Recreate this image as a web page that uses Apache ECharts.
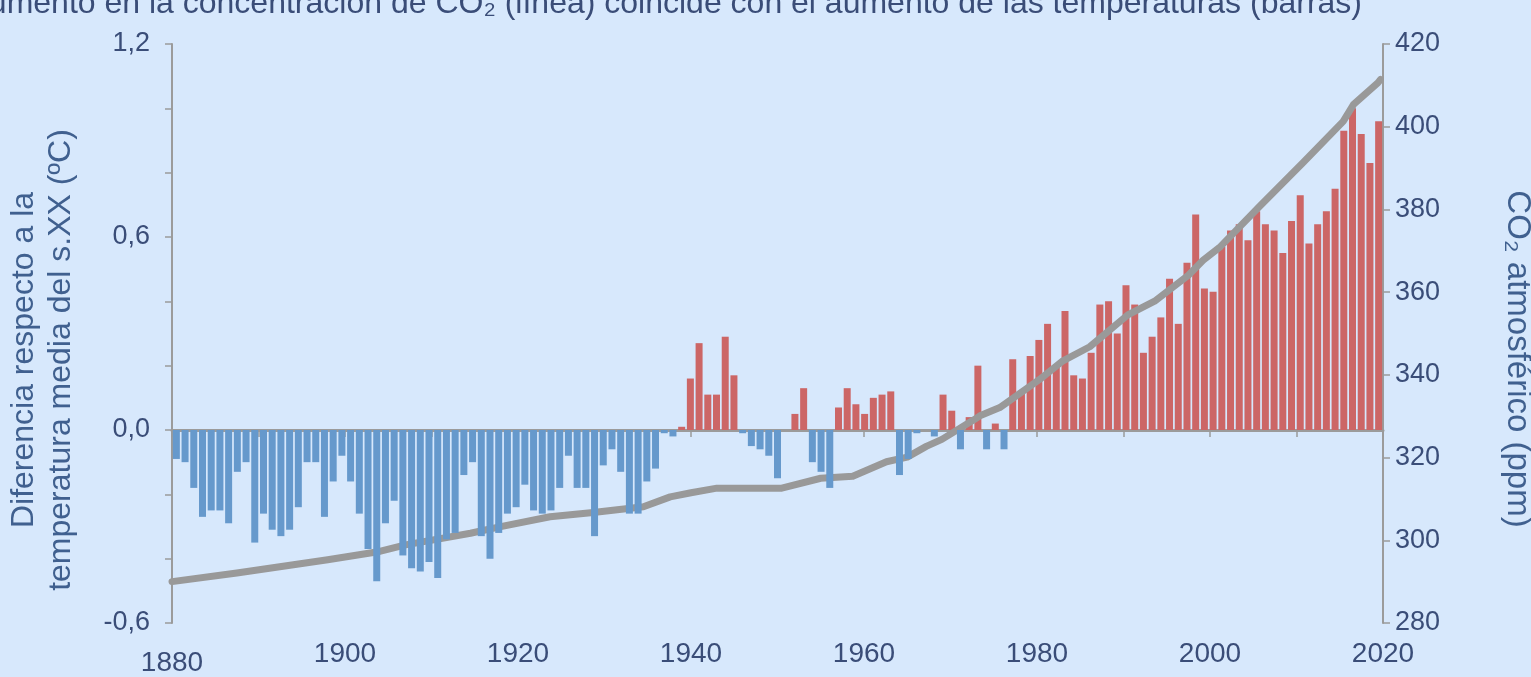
<!DOCTYPE html>
<html>
<head>
<meta charset="utf-8">
<script src="https://cdn.jsdelivr.net/npm/echarts@6/dist/echarts.min.js"></script>
<style>
  html, body { margin: 0; padding: 0; background: #d7e8fc; }
  #main { width: 1531px; height: 677px; }
</style>
</head>
<body>
<div id="main"></div>
<script>
// años de las barras (1881-2019)
var barYears = [];
for (var yr = 1881; yr <= 2019; yr++) barYears.push(String(yr));

// anomalía de temperatura (ºC) respecto a la media del s.XX
var anomaly = [
  -0.09, -0.10, -0.18, -0.27, -0.25, -0.25, -0.29, -0.13, -0.10, -0.35,
  -0.26, -0.31, -0.33, -0.31, -0.24, -0.10, -0.10, -0.27, -0.16, -0.08,
  -0.16, -0.26, -0.37, -0.47, -0.29, -0.22, -0.39, -0.43, -0.44, -0.41,
  -0.46, -0.34, -0.32, -0.14, -0.10, -0.33, -0.40, -0.32, -0.26, -0.24,
  -0.17, -0.25, -0.26, -0.25, -0.18, -0.08, -0.18, -0.18, -0.33, -0.11,
  -0.06, -0.13, -0.26, -0.26, -0.16, -0.12, -0.01, -0.02, 0.01, 0.16,
  0.27, 0.11, 0.11, 0.29, 0.17, -0.01, -0.05, -0.06, -0.08, -0.15,
  0, 0.05, 0.13, -0.10, -0.13, -0.18, 0.07, 0.13, 0.08, 0.05,
  0.10, 0.11, 0.12, -0.14, -0.09, -0.01, 0, -0.02, 0.11, 0.06,
  -0.06, 0.04, 0.20, -0.06, 0.02, -0.06, 0.22, 0.12, 0.23, 0.28,
  0.33, 0.20, 0.37, 0.17, 0.16, 0.24, 0.39, 0.40, 0.30, 0.45,
  0.39, 0.24, 0.29, 0.35, 0.47, 0.33, 0.52, 0.67, 0.44, 0.43,
  0.57, 0.62, 0.64, 0.59, 0.68, 0.64, 0.62, 0.55, 0.65, 0.73,
  0.58, 0.64, 0.68, 0.75, 0.93, 1.00, 0.92, 0.83, 0.96
];

var co2Years = [1880, 1887.5, 1898, 1904, 1907, 1914.5, 1918, 1923.7, 1928.7, 1934.5,
  1937.6, 1940, 1943, 1950.5, 1955, 1958.7, 1962.6, 1965, 1967.2, 1969,
  1972.6, 1973.4, 1975.7, 1980.3, 1983, 1986.1, 1990.5, 1993.6, 1997.5, 1999.2,
  2001.2, 2005.8, 2010.8, 2015.4, 2016.6, 2019.4, 2019.7];
var co2Ppm = [290.0, 292.1, 295.3, 297.3, 298.9, 301.7, 303.3, 305.7, 306.7, 308.1,
  310.5, 311.5, 312.6, 312.6, 315.0, 315.5, 319.0, 320.1, 322.7, 324.4,
  329.0, 330.1, 332.1, 338.9, 343.4, 346.8, 354.5, 357.8, 364.1, 367.7,
  371.0, 380.9, 391.4, 401.3, 405.4, 410.6, 411.4];

// etiquetas de los ejes
var tempLabels = [-0.6, 0, 0.6, 1.2];
var yearLabels = [1880, 1900, 1920, 1940, 1960, 1980, 2000, 2020];

var textColor = '#3a4d78';
var nameColor = '#40608f';
var axisGrey = '#9b9b9b';
var font = 'Liberation Sans, Arial, sans-serif';

var posData = anomaly.map(function (v) { return v > 0 ? v : '-'; });
var negData = anomaly.map(function (v) { return v < 0 ? v : '-'; });
var co2Data = co2Years.map(function (y, i) { return [y, co2Ppm[i]]; });

var myChart = echarts.init(document.getElementById('main'));

var option = {
  animation: false,
  backgroundColor: '#d7e8fc',
  grid: { left: 172, right: 148, top: 44, bottom: 50 },
  xAxis: [{
    type: 'value', min: 1880, max: 2020, interval: 10,
    axisLine: { lineStyle: { color: axisGrey, width: 3 } },
    axisTick: { length: 7, lineStyle: { color: axisGrey, width: 1.5 } },
    splitLine: { show: false },
    axisLabel: {
      margin: 17, fontSize: 28, fontFamily: font, color: textColor,
      formatter: function (v) {
        if (yearLabels.indexOf(v) < 0) return '';
        return v === 1880 ? '{first|1880}' : String(v);
      },
      rich: { first: { fontSize: 28, fontFamily: font, color: textColor, padding: [9, 0, 0, 0] } }
    }
  }, {
    type: 'category', data: barYears, show: false, boundaryGap: true
  }],
  yAxis: [{
    type: 'value', position: 'left', min: -0.6, max: 1.2, interval: 0.2,
    axisLine: { show: true, lineStyle: { color: axisGrey, width: 2 } },
    axisTick: { show: true, length: 7, lineStyle: { color: axisGrey, width: 1.5 } },
    splitLine: { show: false },
    axisLabel: {
      margin: 22, fontSize: 27, fontFamily: font, color: textColor,
      formatter: function (v) {
        var r = Math.round(v * 10) / 10;
        for (var i = 0; i < tempLabels.length; i++) {
          if (Math.abs(tempLabels[i] - r) < 1e-6) return r.toFixed(1).replace('.', ',');
        }
        return '';
      }
    }
  }, {
    type: 'value', position: 'right', min: 280, max: 420, interval: 20,
    axisLine: { show: true, lineStyle: { color: axisGrey, width: 2 } },
    axisTick: { show: true, length: 7, lineStyle: { color: axisGrey, width: 1.5 } },
    splitLine: { show: false },
    axisLabel: { margin: 12, fontSize: 27, fontFamily: font, color: textColor }
  }],
  series: [{
    name: 'positiva', type: 'bar', xAxisIndex: 1, yAxisIndex: 0,
    data: posData, barWidth: 7, barGap: '-100%', z: 1,
    itemStyle: { color: '#cc6666' }
  }, {
    name: 'CO2', type: 'line', xAxisIndex: 0, yAxisIndex: 1,
    data: co2Data, showSymbol: false, z: 2,
    lineStyle: { color: '#999999', width: 7, cap: 'round', join: 'round' }
  }, {
    name: 'negativa', type: 'bar', xAxisIndex: 1, yAxisIndex: 0,
    data: negData, barWidth: 7, barGap: '-100%', z: 3,
    itemStyle: { color: '#6699cc' }
  }],
  graphic: [{
    type: 'text', x: 1362, y: 4,
    style: {
      text: 'El aumento en la concentración de CO₂ (línea) coincide con el aumento de las temperaturas (barras)',
      font: '32px ' + font, fill: textColor, textAlign: 'right', textVerticalAlign: 'middle'
    }
  }, {
    type: 'text', x: 43, y: 360, rotation: Math.PI / 2,
    style: {
      text: 'Diferencia respecto a la\ntemperatura media del s.XX (ºC)',
      font: '32px ' + font, fill: nameColor, textAlign: 'center', textVerticalAlign: 'middle', lineHeight: 37
    }
  }, {
    type: 'text', x: 1517, y: 359, rotation: -Math.PI / 2,
    style: {
      text: 'CO₂ atmosférico (ppm)',
      font: '33px ' + font, fill: nameColor, textAlign: 'center', textVerticalAlign: 'middle'
    }
  }]
};

myChart.setOption(option);
</script>
</body>
</html>
